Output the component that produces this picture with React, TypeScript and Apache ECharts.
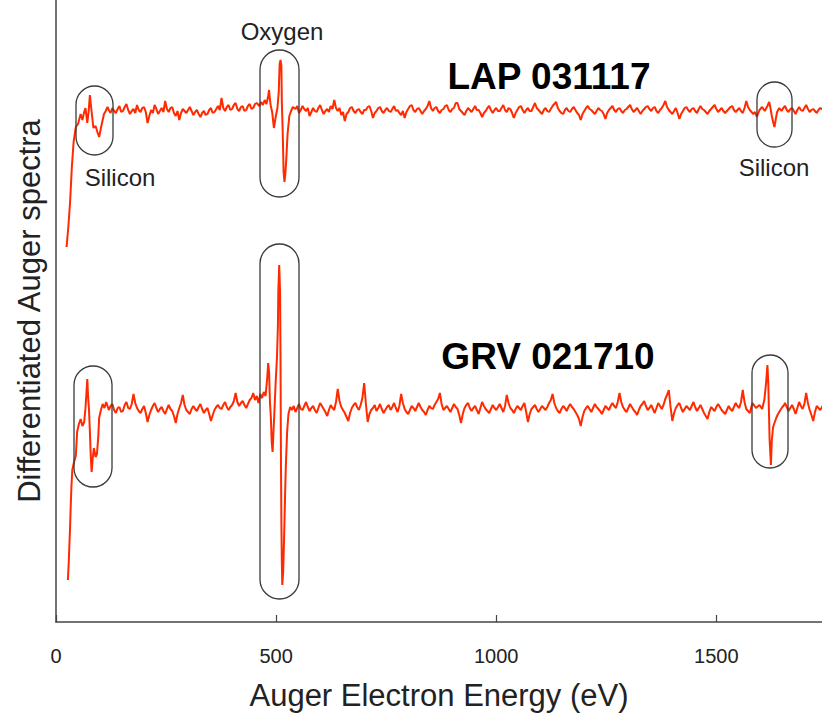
import React, { useEffect, useRef } from "react";
import * as echarts from "echarts";

// x-axis tick labels
const xTicks = [0, 500, 1000, 1500];

// LAP 031117 spectrum: [energy (eV), differentiated signal (arb.)]
const lapSpectrum: number[][] = [
  [24, 375], [28, 395], [32, 420], [36, 455], [40, 480], [45, 495], [50, 498], [56, 508], [60, 502], [64, 510],
  [67, 514], [71, 499], [74, 510], [77, 527], [79, 518], [81, 510], [85, 494], [90, 496], [94, 490], [98, 485],
  [102, 494], [105, 500], [109, 508], [113, 511], [117, 515], [120, 512],
  [124, 509], [128, 514], [132, 511], [136, 509], [140, 513], [144, 516], [148, 510], [152, 511], [156, 515], [160, 518],
  [164, 512], [168, 508], [172, 511], [176, 513], [180, 509], [184, 517], [188, 512], [192, 510], [196, 514], [200, 515],
  [204, 510], [208, 499], [212, 506], [216, 512], [220, 509], [224, 517], [228, 513], [232, 508], [236, 511], [240, 514],
  [244, 510], [248, 521], [252, 513], [256, 510], [260, 514], [264, 515], [268, 509], [272, 506], [276, 511], [280, 502],
  [284, 509], [288, 513], [292, 511], [296, 509], [300, 512], [304, 515], [308, 511], [312, 507], [316, 510], [320, 512],
  [324, 508], [328, 505], [332, 509], [336, 511], [340, 507], [344, 508], [348, 512], [352, 514], [356, 509], [360, 510],
  [364, 513], [368, 516], [372, 512], [376, 524], [380, 514], [384, 511], [388, 515], [392, 517], [396, 512], [400, 513],
  [404, 517], [408, 519], [412, 513], [416, 511], [420, 515], [424, 516], [428, 511], [432, 512], [436, 516], [440, 518],
  [444, 513], [448, 514], [452, 518], [456, 519],
  [462, 516], [466, 520], [470, 517], [474, 522], [478, 518], [482, 526], [484, 532], [486, 522], [488, 516], [491, 510],
  [495, 494], [499, 505], [503, 514], [506, 530], [508, 558], [510, 562], [512, 556], [513, 520], [515, 490], [517, 450],
  [519, 440], [521, 448], [523, 462], [526, 488], [530, 506], [534, 511], [538, 515],
  [544, 513], [548, 516], [552, 509], [556, 512], [560, 516], [564, 513], [568, 511], [572, 514], [576, 506], [580, 510],
  [584, 514], [588, 511], [592, 510], [596, 514], [600, 517], [604, 512], [608, 508], [612, 511], [616, 513], [620, 510],
  [624, 516], [628, 513], [632, 522], [636, 514], [640, 511], [644, 514], [648, 507], [652, 510], [656, 501], [660, 508],
  [664, 510], [668, 514], [672, 515], [676, 511], [680, 509], [684, 512], [688, 513], [692, 510], [696, 508], [700, 512],
  [704, 512], [708, 515], [712, 516], [716, 511], [720, 504], [724, 509], [728, 511], [732, 514], [736, 515], [740, 511],
  [744, 509], [748, 512], [752, 514], [756, 511], [760, 510], [764, 513], [768, 516], [772, 511], [776, 512], [780, 509],
  [784, 507], [788, 511], [792, 504], [796, 510], [800, 513], [804, 516], [808, 517], [812, 512], [816, 510], [820, 513],
  [824, 514], [828, 511], [832, 508], [836, 511], [840, 513], [844, 516], [848, 521], [852, 514], [856, 511], [860, 514],
  [864, 515], [868, 511], [872, 509], [876, 512], [880, 513], [884, 516], [888, 517], [892, 512], [896, 510], [900, 513],
  [904, 514], [908, 519], [912, 519], [916, 513], [920, 511], [924, 509], [928, 507], [932, 511], [936, 514], [940, 512],
  [944, 510], [948, 513], [952, 516], [956, 512], [960, 512], [964, 509], [968, 505], [972, 509], [976, 511], [980, 514],
  [984, 516], [988, 512], [992, 509], [996, 512], [1000, 514], [1004, 511], [1008, 511], [1012, 514], [1016, 517], [1020, 512],
  [1024, 510], [1028, 514], [1032, 513], [1036, 509], [1040, 504], [1044, 509], [1048, 512], [1052, 515], [1056, 516], [1060, 512],
  [1064, 509], [1068, 512], [1072, 514], [1076, 511], [1080, 511], [1084, 515], [1088, 519], [1092, 514], [1096, 512], [1100, 510],
  [1104, 508], [1108, 512], [1112, 514], [1116, 511], [1120, 510], [1124, 513], [1128, 516], [1132, 518], [1136, 520], [1140, 514],
  [1144, 511], [1148, 509], [1152, 508], [1156, 512], [1160, 514], [1164, 511], [1168, 510], [1172, 513], [1176, 515], [1180, 512],
  [1184, 509], [1188, 507], [1192, 502], [1196, 508], [1200, 511], [1204, 514], [1208, 516], [1212, 513], [1216, 512], [1220, 510],
  [1224, 508], [1228, 511], [1232, 514], [1236, 512], [1240, 511], [1244, 508], [1248, 503], [1252, 509], [1256, 512], [1260, 514],
  [1264, 516], [1268, 512], [1272, 510], [1276, 513], [1280, 514], [1284, 511], [1288, 509], [1292, 512], [1296, 513], [1300, 515],
  [1304, 517], [1308, 513], [1312, 510], [1316, 512], [1320, 514], [1324, 511], [1328, 508], [1332, 511], [1336, 513], [1340, 515],
  [1344, 516], [1348, 513], [1352, 511], [1356, 514], [1360, 515], [1364, 511], [1368, 509], [1372, 512], [1376, 514], [1380, 517],
  [1384, 521], [1388, 515], [1392, 512], [1396, 510], [1400, 508], [1404, 511], [1408, 514], [1412, 509], [1416, 503], [1420, 508],
  [1424, 511], [1428, 514], [1432, 515], [1436, 512], [1440, 510], [1444, 513], [1448, 514], [1452, 511], [1456, 509], [1460, 513],
  [1464, 516], [1468, 513], [1472, 512], [1476, 510], [1480, 508], [1484, 511], [1488, 513], [1492, 515], [1496, 517], [1500, 513],
  [1504, 510], [1508, 512], [1512, 514], [1516, 511], [1520, 509], [1524, 511], [1528, 513], [1532, 515], [1536, 516], [1540, 512],
  [1544, 510], [1548, 512], [1552, 514], [1556, 511], [1560, 509], [1564, 514], [1568, 521], [1572, 515], [1576, 512], [1580, 510],
  [1584, 508], [1588, 510], [1592, 505],
  [1598, 512], [1604, 515], [1610, 511], [1616, 516], [1620, 520], [1623, 514], [1626, 506], [1629, 500], [1632, 495], [1635, 503],
  [1638, 510], [1643, 514],
  [1648, 511], [1652, 514], [1656, 516], [1660, 512], [1664, 510], [1668, 513], [1672, 514], [1676, 511], [1680, 508], [1684, 512],
  [1688, 515], [1692, 512], [1696, 511], [1700, 514], [1704, 517], [1708, 513], [1712, 510], [1716, 512], [1720, 513], [1724, 511],
  [1728, 509], [1732, 512], [1736, 514], [1744, 512],
];

// GRV 021710 spectrum: [energy (eV), differentiated signal (arb.)]
const grvSpectrum: number[][] = [
  [27, 42], [29, 60], [30, 72], [32, 95], [33, 110], [35, 135], [37, 152], [41, 160], [45, 166], [48, 190],
  [52, 198], [56, 203], [60, 196], [64, 200], [67, 214], [69, 228], [71, 243], [73, 225], [75, 212], [77, 190],
  [79, 165], [81, 150], [83, 162], [86, 174], [90, 165], [93, 168], [96, 185], [98, 204], [102, 212], [106, 218],
  [110, 214], [114, 220],
  [120, 212], [124, 216], [128, 218], [132, 212], [136, 209], [140, 214], [144, 215], [148, 210], [152, 211], [156, 217],
  [160, 220], [164, 214], [168, 213], [172, 218], [176, 228], [180, 219], [184, 214], [188, 211], [192, 209], [196, 213],
  [200, 216], [204, 209], [208, 200], [212, 207], [216, 212], [220, 216], [224, 219], [228, 214], [232, 210], [236, 213],
  [240, 215], [244, 211], [248, 208], [252, 213], [256, 217], [260, 213], [264, 211], [268, 206], [272, 199], [276, 208],
  [280, 214], [284, 219], [288, 227], [292, 217], [296, 212], [300, 210], [304, 208], [308, 213], [312, 216], [316, 213],
  [320, 211], [324, 215], [328, 218], [332, 213], [336, 209], [340, 212], [344, 214], [348, 208], [352, 201], [356, 207],
  [360, 212], [364, 215], [368, 217], [372, 214], [376, 213], [380, 217], [384, 220], [388, 215], [392, 212], [396, 215],
  [400, 217], [404, 221], [408, 229], [412, 220], [416, 216], [420, 219], [424, 221], [428, 217], [432, 214], [436, 218],
  [440, 222], [444, 224], [448, 229],
  [452, 222], [456, 226], [460, 219], [464, 228], [468, 224], [472, 230], [476, 226], [480, 245], [482, 259], [484, 250],
  [486, 220], [488, 205], [490, 180], [492, 170], [494, 190], [496, 209], [499, 240], [502, 265], [504, 295], [505, 330],
  [507, 357], [509, 330], [510, 265], [511, 160], [512, 99], [513, 60], [514, 37], [516, 50], [518, 82], [520, 120],
  [522, 155], [525, 190], [528, 208], [532, 215], [536, 212],
  [540, 216], [544, 210], [548, 214], [552, 218], [556, 213], [560, 212], [564, 216], [568, 220], [572, 215], [576, 211],
  [580, 214], [584, 216], [588, 212], [592, 209], [596, 214], [600, 219], [604, 216], [608, 213], [612, 210], [616, 206],
  [620, 212], [624, 217], [628, 214], [632, 212], [636, 220], [640, 233], [644, 221], [648, 215], [652, 212], [656, 209],
  [660, 205], [664, 201], [668, 209], [672, 214], [676, 217], [680, 219], [684, 215], [688, 212], [692, 217], [696, 224],
  [700, 239], [704, 218], [708, 200], [712, 208], [716, 212], [720, 214], [724, 217], [728, 211], [732, 214], [736, 218],
  [740, 213], [744, 209], [748, 212], [752, 215], [756, 217], [760, 212], [764, 215], [768, 219], [772, 214], [776, 210],
  [780, 216], [784, 228], [788, 219], [792, 213], [796, 210], [800, 208], [804, 212], [808, 216], [812, 214], [816, 211],
  [820, 215], [824, 219], [828, 215], [832, 212], [836, 210], [840, 207], [844, 212], [848, 216], [852, 214], [856, 213],
  [860, 217], [864, 220], [868, 223], [872, 229], [876, 218], [880, 212], [884, 214], [888, 216], [892, 213], [896, 210],
  [900, 214], [904, 218], [908, 215], [912, 213], [916, 207], [920, 199], [924, 208], [928, 214], [932, 217], [936, 219],
  [940, 214], [944, 211], [948, 214], [952, 216], [956, 212], [960, 208], [964, 214], [968, 220], [972, 216], [976, 213],
  [980, 211], [984, 209], [988, 213], [992, 217], [996, 214], [1000, 212], [1004, 215], [1008, 218], [1012, 214], [1016, 210],
  [1020, 216], [1024, 227], [1028, 219], [1032, 214], [1036, 212], [1040, 209], [1044, 213], [1048, 216], [1052, 214], [1056, 212],
  [1060, 216], [1064, 219], [1068, 210], [1072, 200], [1076, 208], [1080, 213], [1084, 215], [1088, 217], [1092, 213], [1096, 210],
  [1100, 213], [1104, 216], [1108, 214], [1112, 212], [1116, 215], [1120, 219], [1124, 222], [1128, 228], [1132, 219], [1136, 214],
  [1140, 211], [1144, 209], [1148, 213], [1152, 216], [1156, 214], [1160, 211], [1164, 215], [1168, 218], [1172, 215], [1176, 213],
  [1180, 210], [1184, 207], [1188, 203], [1192, 196], [1196, 205], [1200, 211], [1204, 214], [1208, 216], [1212, 213], [1216, 210],
  [1220, 214], [1224, 218], [1228, 215], [1232, 213], [1236, 211], [1240, 208], [1244, 212], [1248, 216], [1252, 214], [1256, 212],
  [1260, 216], [1264, 219], [1268, 216], [1272, 214], [1276, 220], [1280, 229], [1284, 220], [1288, 215], [1292, 212], [1296, 210],
  [1300, 214], [1304, 218], [1308, 215], [1312, 212], [1316, 210], [1320, 207], [1324, 212], [1328, 216], [1332, 218], [1336, 221],
  [1340, 216], [1344, 212], [1348, 214], [1352, 217], [1356, 213], [1360, 209], [1364, 214], [1368, 219], [1372, 216], [1376, 213],
  [1380, 217], [1384, 223], [1388, 227], [1392, 232], [1396, 215], [1400, 201], [1404, 209], [1408, 214], [1412, 217], [1416, 219],
  [1420, 214], [1424, 210], [1428, 213], [1432, 216], [1436, 214], [1440, 212], [1444, 216], [1448, 220], [1452, 215], [1456, 211],
  [1460, 214], [1464, 217], [1468, 213], [1472, 209], [1476, 206], [1480, 203], [1484, 210], [1488, 215], [1492, 213], [1496, 211],
  [1500, 215], [1504, 218], [1508, 215], [1512, 212], [1516, 210], [1520, 208], [1524, 212], [1528, 216], [1532, 213], [1536, 211],
  [1540, 215], [1544, 219], [1548, 216], [1552, 214], [1556, 220], [1560, 232], [1564, 220], [1568, 213], [1572, 211], [1576, 209],
  [1582, 219], [1590, 214], [1598, 217], [1604, 213], [1609, 222], [1613, 239], [1616, 257], [1618, 239], [1621, 182], [1624, 157],
  [1626, 182], [1629, 195], [1632, 199], [1636, 204], [1639, 207], [1644, 211], [1650, 215],
  [1654, 217], [1656, 219], [1660, 215], [1664, 211], [1668, 214], [1672, 217], [1676, 213], [1680, 208], [1684, 214], [1688, 220],
  [1692, 216], [1696, 213], [1700, 218], [1704, 229], [1708, 219], [1712, 212], [1716, 207], [1720, 201], [1724, 210], [1728, 216],
  [1732, 214], [1736, 212], [1744, 218],
];

// annotation texts
const sampleNames = ["LAP 031117", "GRV 021710"];
const peakNames = ["Oxygen", "Silicon"];

const FONT = '"Liberation Sans", Arial, Helvetica, sans-serif';

export default function App() {
  const ref = useRef<HTMLDivElement>(null);

  useEffect(() => {
    if (!ref.current) return;
    const chart = echarts.init(ref.current, undefined, { renderer: "svg" });

    const box = (x: number, y: number, w: number, h: number) => ({
      type: "rect",
      shape: { x, y, width: w, height: h, r: w / 2 },
      style: { fill: "none", stroke: "#3a3a3a", lineWidth: 1.3 },
      z: 10,
    });
    const label = (text: string, x: number, y: number, size: number, bold = false) => ({
      type: "text",
      style: {
        text,
        x,
        y,
        fill: bold ? "#000" : "#222",
        font: `${bold ? "bold " : ""}${size}px ${FONT}`,
        align: "center",
        verticalAlign: "middle",
      },
      z: 10,
    });

    chart.setOption({
      animation: false,
      backgroundColor: "#fff",
      grid: { left: 56, right: 0, top: 0, bottom: 99, containLabel: false },
      xAxis: {
        type: "value",
        min: 0,
        max: 1740,
        interval: 500,
        name: "Auger Electron Energy (eV)",
        nameLocation: "middle",
        nameGap: 58,
        nameTextStyle: { fontFamily: FONT, fontSize: 31, color: "#222" },
        axisLine: { show: true, onZero: false, lineStyle: { color: "#444", width: 1.5 } },
        axisTick: { show: true, inside: true, length: 7, lineStyle: { color: "#444", width: 1.2 } },
        axisLabel: {
          fontFamily: FONT,
          fontSize: 20,
          color: "#222",
          margin: 24,
          formatter: (v: number) => (xTicks.includes(v) ? String(v) : ""),
          showMaxLabel: false,
        },
        splitLine: { show: false },
      },
      yAxis: {
        type: "value",
        min: 0,
        max: 622,
        name: "Differentiated Auger spectra",
        nameLocation: "middle",
        nameGap: 11,
        nameTextStyle: { fontFamily: FONT, fontSize: 31, color: "#222" },
        axisLine: { show: true, lineStyle: { color: "#444", width: 1.5 } },
        axisTick: { show: false },
        axisLabel: { show: false },
        splitLine: { show: false },
      },
      series: [
        {
          name: sampleNames[0],
          type: "line",
          data: lapSpectrum,
          showSymbol: false,
          lineStyle: { color: "#ff2a00", width: 2 },
          clip: true,
        },
        {
          name: sampleNames[1],
          type: "line",
          data: grvSpectrum,
          showSymbol: false,
          lineStyle: { color: "#ff2a00", width: 2 },
          clip: true,
        },
      ],
      graphic: [
        box(76, 86, 37, 69),
        box(260, 50, 39, 147),
        box(757, 82, 35, 65),
        box(74, 366, 38, 121),
        box(260, 244, 39, 355),
        box(752, 355, 36, 113),
        label(peakNames[0], 282, 31, 24),
        label(peakNames[1], 120, 177, 24),
        label(peakNames[1], 774, 167, 24),
        label(sampleNames[0], 549, 76, 37, true),
        label(sampleNames[1], 548, 356, 37, true),
      ],
    });

    return () => chart.dispose();
  }, []);

  return (
    <div
      ref={ref}
      style={{ position: "absolute", left: 0, top: 0, width: 822, height: 721 }}
    />
  );
}
